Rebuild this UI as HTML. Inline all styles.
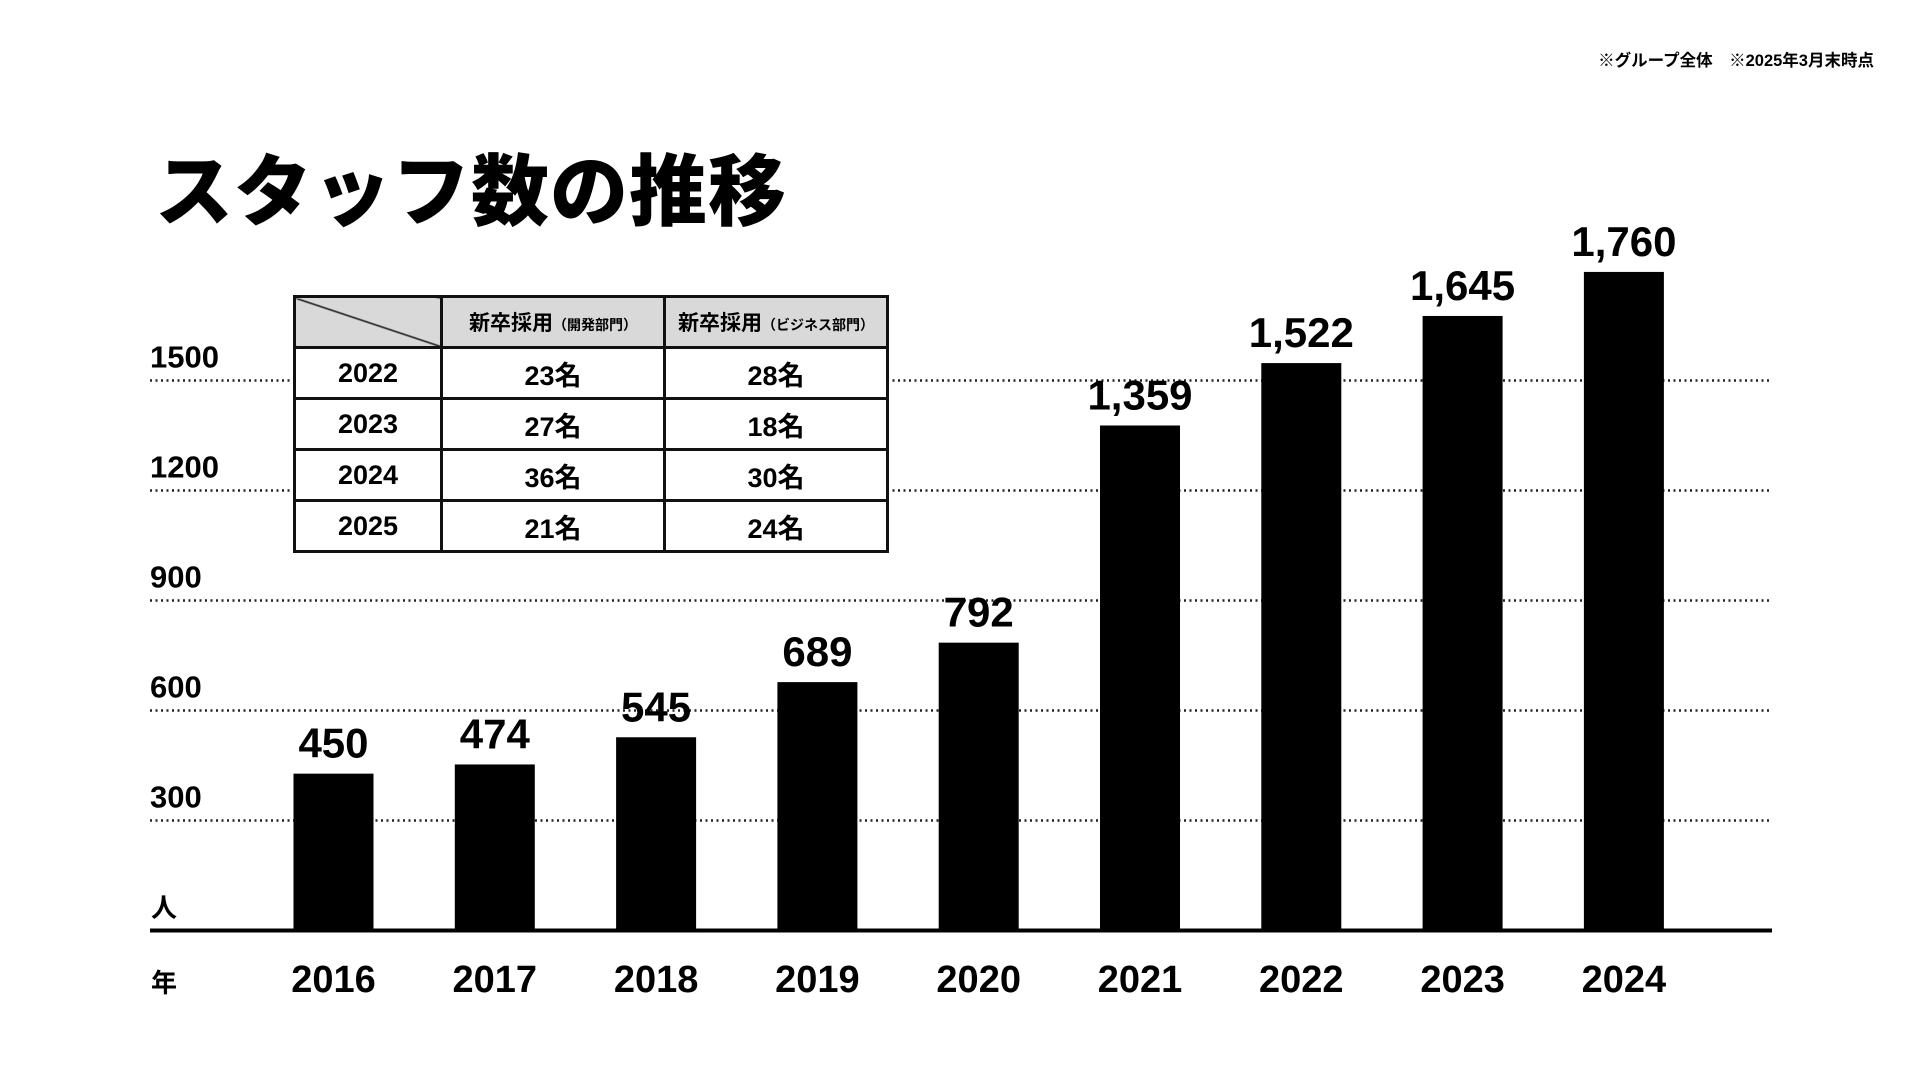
<!DOCTYPE html>
<html><head><meta charset="utf-8">
<style>
html,body{margin:0;padding:0;background:#fff;}
body{width:1920px;height:1080px;position:relative;overflow:hidden;font-family:"Liberation Sans","Noto Sans CJK JP",sans-serif;color:#000;}
#title{position:absolute;left:155px;top:146px;font-size:78px;font-weight:900;letter-spacing:1px;margin:0;line-height:1.2;}
#note{position:absolute;right:46px;top:47px;font-size:16.5px;font-weight:bold;}
table{position:absolute;left:293px;top:295px;border-collapse:collapse;background:#fff;}
td{border:3px solid #111;text-align:center;font-weight:bold;font-size:27px;padding:0;height:48px;box-sizing:border-box;}
tr.h td{background:#d9d9d9;height:51px;font-size:21px;}
tr.h small{font-size:14px;}
</style></head><body>
<div id="note">※グループ全体　※2025年3月末時点</div>
<h1 id="title">スタッフ数の推移</h1>
<svg id="chart" width="1920" height="1080" style="position:absolute;left:0;top:0"></svg>
<table>
<colgroup><col style="width:147px"><col style="width:223px"><col style="width:223px"></colgroup>
<tr class="h">
<td style="background-color:#d9d9d9;background-image:linear-gradient(to bottom left,transparent calc(50% - 1.5px),#111 50%,transparent calc(50% + 1.5px));"></td>
<td>新卒採用<small>（開発部門）</small></td>
<td>新卒採用<small>（ビジネス部門）</small></td></tr>
<tr><td style="height:51px">2022</td><td>23名</td><td>28名</td></tr>
<tr><td style="height:51px">2023</td><td>27名</td><td>18名</td></tr>
<tr><td style="height:51px">2024</td><td>36名</td><td>30名</td></tr>
<tr><td style="height:51px">2025</td><td>21名</td><td>24名</td></tr>
</table>
<script>
const categories=["2016","2017","2018","2019","2020","2021","2022","2023","2024"];
const values=[450,474,545,689,792,1359,1522,1645,1760];
const valueLabels=["450","474","545","689","792","1,359","1,522","1,645","1,760"];
const ticks=[300,600,900,1200,1500];
const NS="http://www.w3.org/2000/svg";
const svg=document.getElementById('chart');
const y0=930.5,pxPer=550/1500;
function y(v){return y0-v*pxPer;}
function yb(v){return 946-v*0.383;}
function x(i){return 333.5+i*161.3;}
function mk(t,a,txt){const e=document.createElementNS(NS,t);for(const k in a)e.setAttribute(k,a[k]);if(txt!==undefined)e.textContent=txt;svg.appendChild(e);return e;}
const F='"Liberation Sans","Noto Sans CJK JP",sans-serif';
ticks.forEach(t=>{
 const l=mk('line',{x1:150,x2:1772,y1:y(t),y2:y(t),stroke:'#222','stroke-width':2.5,'stroke-dasharray':'2 3.5'});
 
 
 const tx=mk('text',{x:150,y:y(t)-13,'font-size':31,'font-weight':'bold','font-family':F},String(t));
 
 
});
categories.forEach((c,i)=>{
 const b=mk('rect',{x:x(i)-40,y:yb(values[i]),width:80,height:y0-yb(values[i]),fill:'#000'});
 
 
 const v=mk('text',{x:x(i),y:yb(values[i])-16,'font-size':42,'font-weight':'bold','text-anchor':'middle','font-family':F},valueLabels[i]);
 
 
 const t=mk('text',{x:x(i),y:992,'font-size':38,'font-weight':'bold','text-anchor':'middle','font-family':F},c);
 
 
});
const ax=mk('line',{x1:150,x2:1772,y1:y0,y2:y0,stroke:'#000','stroke-width':4});


const u=mk('text',{x:151,y:917,'font-size':26,'font-weight':'bold','font-family':F},'人');


const yr=mk('text',{x:151,y:992,'font-size':26,'font-weight':'bold','font-family':F},'年');


</script>
</body></html>
